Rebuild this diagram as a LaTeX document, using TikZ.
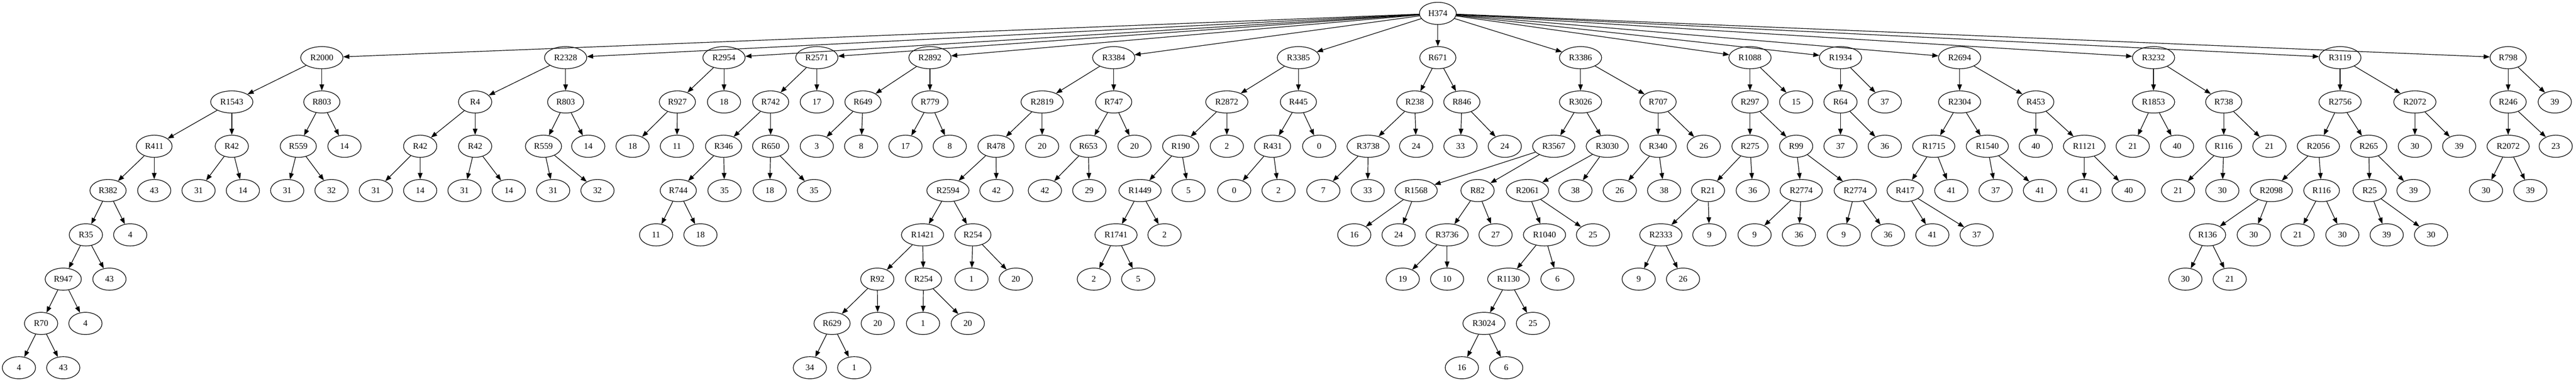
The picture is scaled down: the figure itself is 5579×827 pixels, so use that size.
\documentclass[tikz,border=0pt]{standalone}
\usepackage{fontspec}
\setmainfont{Liberation Serif}
\usetikzlibrary{shapes.geometric,arrows.meta}

\begin{document}
\begin{tikzpicture}[x=0.75pt, y=-0.75pt,
    vert/.style={ellipse, draw, line width=1pt, minimum width=54pt, minimum height=36pt,
        inner xsep=5.6pt, inner ysep=2pt, font=\fontsize{14}{16}\selectfont},
    arr/.style={line width=1pt, -{Triangle[length=10pt, width=7.5pt]}}]
        \useasboundingbox (0, 0) rectangle (5579, 827);

        % level 0 and 1
        \node[vert] (h374) at (3114, 29) {H374};
        \node[vert] (r2000) at (697, 125) {R2000};
        \node[vert] (r2328) at (1225, 125) {R2328};
        \node[vert] (r2954) at (1568, 125) {R2954};
        \node[vert] (r2571) at (1769, 125) {R2571};
        \node[vert] (r2892) at (2014, 125) {R2892};
        \node[vert] (r3384) at (2412, 125) {R3384};
        \node[vert] (r3385) at (2812, 125) {R3385};
        \node[vert] (r671) at (3114, 125) {R671};
        \node[vert] (r3386) at (3423, 125) {R3386};
        \node[vert] (r1088) at (3790, 125) {R1088};
        \node[vert] (r1934) at (3986, 125) {R1934};
        \node[vert] (r2694) at (4244, 125) {R2694};
        \node[vert] (r3232) at (4664, 125) {R3232};
        \node[vert] (r3119) at (5068, 125) {R3119};
        \node[vert] (r798) at (5432, 125) {R798};

        % level 2
        \node[vert] (r1543) at (502, 221) {R1543};
        \node[vert] (r803a) at (697, 221) {R803};
        \node[vert] (r4) at (1029, 221) {R4};
        \node[vert] (r803b) at (1225, 221) {R803};
        \node[vert] (r927) at (1467, 221) {R927};
        \node[vert] (r2954y) at (1568, 221) {18};
        \node[vert] (r742) at (1669, 221) {R742};
        \node[vert] (r2571y) at (1769, 221) {17};
        \node[vert] (r649) at (1869, 221) {R649};
        \node[vert] (r779) at (2014, 221) {R779};
        \node[vert] (r2819) at (2257, 221) {R2819};
        \node[vert] (r747) at (2412, 221) {R747};
        \node[vert] (r2872) at (2657, 221) {R2872};
        \node[vert] (r445) at (2812, 221) {R445};
        \node[vert] (r238) at (3064, 221) {R238};
        \node[vert] (r846) at (3166, 221) {R846};
        \node[vert] (r3026) at (3423, 221) {R3026};
        \node[vert] (r707) at (3591, 221) {R707};
        \node[vert] (r297) at (3790, 221) {R297};
        \node[vert] (r1088y) at (3890, 221) {15};
        \node[vert] (r64) at (3986, 221) {R64};
        \node[vert] (r1934y) at (4082, 221) {37};
        \node[vert] (r2304) at (4244, 221) {R2304};
        \node[vert] (r453) at (4409, 221) {R453};
        \node[vert] (r1853) at (4664, 221) {R1853};
        \node[vert] (r738) at (4816, 221) {R738};
        \node[vert] (r2756) at (5068, 221) {R2756};
        \node[vert] (r2072a) at (5230, 221) {R2072};
        \node[vert] (r246) at (5432, 221) {R246};
        \node[vert] (r798y) at (5533, 221) {39};

        % level 3
        \node[vert] (r411) at (334, 317) {R411};
        \node[vert] (r42a) at (502, 317) {R42};
        \node[vert] (r559a) at (646, 317) {R559};
        \node[vert] (r803ay) at (746, 317) {14};
        \node[vert] (r42b) at (910, 317) {R42};
        \node[vert] (r42c) at (1029, 317) {R42};
        \node[vert] (r559b) at (1177, 317) {R559};
        \node[vert] (r803by) at (1274, 317) {14};
        \node[vert] (r927x) at (1370, 317) {18};
        \node[vert] (r927y) at (1466, 317) {11};
        \node[vert] (r346) at (1567, 317) {R346};
        \node[vert] (r650) at (1669, 317) {R650};
        \node[vert] (r649x) at (1769, 317) {3};
        \node[vert] (r649y) at (1865, 317) {8};
        \node[vert] (r779x) at (1961, 317) {17};
        \node[vert] (r779y) at (2057, 317) {8};
        \node[vert] (r478) at (2157, 317) {R478};
        \node[vert] (r2819y) at (2257, 317) {20};
        \node[vert] (r653) at (2357, 317) {R653};
        \node[vert] (r747y) at (2457, 317) {20};
        \node[vert] (r190) at (2557, 317) {R190};
        \node[vert] (r2872y) at (2657, 317) {2};
        \node[vert] (r431) at (2756, 317) {R431};
        \node[vert] (r445y) at (2857, 317) {0};
        \node[vert] (r3738) at (2963, 317) {R3738};
        \node[vert] (r238y) at (3067, 317) {24};
        \node[vert] (r846x) at (3163, 317) {33};
        \node[vert] (r846y) at (3259, 317) {24};
        \node[vert] (r3567) at (3365, 317) {R3567};
        \node[vert] (r3030) at (3481, 317) {R3030};
        \node[vert] (r340) at (3591, 317) {R340};
        \node[vert] (r707y) at (3690, 317) {26};
        \node[vert] (r275) at (3790, 317) {R275};
        \node[vert] (r99) at (3890, 317) {R99};
        \node[vert] (r64x) at (3986, 317) {37};
        \node[vert] (r64y) at (4082, 317) {36};
        \node[vert] (r1715) at (4188, 317) {R1715};
        \node[vert] (r1540) at (4304, 317) {R1540};
        \node[vert] (r453x) at (4409, 317) {40};
        \node[vert] (r1121) at (4514, 317) {R1121};
        \node[vert] (r1853x) at (4619, 317) {21};
        \node[vert] (r1853y) at (4715, 317) {40};
        \node[vert] (r116a) at (4816, 317) {R116};
        \node[vert] (r738y) at (4915, 317) {21};
        \node[vert] (r2056) at (5021, 317) {R2056};
        \node[vert] (r265) at (5130, 317) {R265};
        \node[vert] (r2072ax) at (5230, 317) {30};
        \node[vert] (r2072ay) at (5326, 317) {39};
        \node[vert] (r2072b) at (5432, 317) {R2072};
        \node[vert] (r246y) at (5535, 317) {23};

        % level 4
        \node[vert] (r382) at (234, 413) {R382};
        \node[vert] (r411y) at (334, 413) {43};
        \node[vert] (r42ax) at (430, 413) {31};
        \node[vert] (r42ay) at (526, 413) {14};
        \node[vert] (r559ax) at (622, 413) {31};
        \node[vert] (r559ay) at (718, 413) {32};
        \node[vert] (r42bx) at (814, 413) {31};
        \node[vert] (r42by) at (910, 413) {14};
        \node[vert] (r42cx) at (1006, 413) {31};
        \node[vert] (r42cy) at (1102, 413) {14};
        \node[vert] (r559bx) at (1198, 413) {31};
        \node[vert] (r559by) at (1294, 413) {32};
        \node[vert] (r744) at (1469, 413) {R744};
        \node[vert] (r346y) at (1569, 413) {35};
        \node[vert] (r650x) at (1667, 413) {18};
        \node[vert] (r650y) at (1763, 413) {35};
        \node[vert] (r2594) at (2053, 413) {R2594};
        \node[vert] (r478y) at (2158, 413) {42};
        \node[vert] (r653x) at (2263, 413) {42};
        \node[vert] (r653y) at (2359, 413) {29};
        \node[vert] (r1449) at (2469, 413) {R1449};
        \node[vert] (r190y) at (2574, 413) {5};
        \node[vert] (r431x) at (2673, 413) {0};
        \node[vert] (r431y) at (2769, 413) {2};
        \node[vert] (r3738x) at (2866, 413) {7};
        \node[vert] (r3738y) at (2962, 413) {33};
        \node[vert] (r1568) at (3067, 413) {R1568};
        \node[vert] (r82) at (3200, 413) {R82};
        \node[vert] (r2061) at (3308, 413) {R2061};
        \node[vert] (r3030y) at (3412, 413) {38};
        \node[vert] (r340x) at (3508, 413) {26};
        \node[vert] (r340y) at (3604, 413) {38};
        \node[vert] (r21) at (3699, 413) {R21};
        \node[vert] (r275y) at (3796, 413) {36};
        \node[vert] (r2774a) at (3901, 413) {R2774};
        \node[vert] (r2774b) at (4018, 413) {R2774};
        \node[vert] (r417) at (4126, 413) {R417};
        \node[vert] (r1715y) at (4226, 413) {41};
        \node[vert] (r1540x) at (4322, 413) {37};
        \node[vert] (r1540y) at (4418, 413) {41};
        \node[vert] (r1121x) at (4514, 413) {41};
        \node[vert] (r1121y) at (4610, 413) {40};
        \node[vert] (r116ax) at (4717, 413) {21};
        \node[vert] (r116ay) at (4813, 413) {30};
        \node[vert] (r2098) at (4919, 413) {R2098};
        \node[vert] (r116b) at (5028, 413) {R116};
        \node[vert] (r25) at (5132, 413) {R25};
        \node[vert] (r265y) at (5227, 413) {39};
        \node[vert] (r2072bx) at (5384, 413) {30};
        \node[vert] (r2072by) at (5480, 413) {39};

        % level 5
        \node[vert] (r35) at (186, 509) {R35};
        \node[vert] (r382y) at (282, 509) {4};
        \node[vert] (r744x) at (1421, 509) {11};
        \node[vert] (r744y) at (1517, 509) {18};
        \node[vert] (r1421) at (1998, 509) {R1421};
        \node[vert] (r254a) at (2107, 509) {R254};
        \node[vert] (r1741) at (2417, 509) {R1741};
        \node[vert] (r1449y) at (2522, 509) {2};
        \node[vert] (r1568x) at (2933, 509) {16};
        \node[vert] (r1568y) at (3029, 509) {24};
        \node[vert] (r3736) at (3134, 509) {R3736};
        \node[vert] (r82y) at (3239, 509) {27};
        \node[vert] (r1040) at (3345, 509) {R1040};
        \node[vert] (r2061y) at (3450, 509) {25};
        \node[vert] (r2333) at (3597, 509) {R2333};
        \node[vert] (r21y) at (3702, 509) {9};
        \node[vert] (r2774ax) at (3800, 509) {9};
        \node[vert] (r2774ay) at (3896, 509) {36};
        \node[vert] (r2774bx) at (3993, 509) {9};
        \node[vert] (r2774by) at (4089, 509) {36};
        \node[vert] (r417x) at (4185, 509) {41};
        \node[vert] (r417y) at (4281, 509) {37};
        \node[vert] (r136) at (4781, 509) {R136};
        \node[vert] (r2098y) at (4881, 509) {30};
        \node[vert] (r116bx) at (4976, 509) {21};
        \node[vert] (r116by) at (5073, 509) {30};
        \node[vert] (r25x) at (5169, 509) {39};
        \node[vert] (r25y) at (5265, 509) {30};

        % level 6
        \node[vert] (r947) at (137, 605) {R947};
        \node[vert] (r35y) at (237, 605) {43};
        \node[vert] (r92) at (1900, 605) {R92};
        \node[vert] (r254b) at (2000, 605) {R254};
        \node[vert] (r254ax) at (2104, 605) {1};
        \node[vert] (r254ay) at (2200, 605) {20};
        \node[vert] (r1741x) at (2369, 605) {2};
        \node[vert] (r1741y) at (2465, 605) {5};
        \node[vert] (r3736x) at (3038, 605) {19};
        \node[vert] (r3736y) at (3134, 605) {10};
        \node[vert] (r1130) at (3267, 605) {R1130};
        \node[vert] (r1040y) at (3373, 605) {6};
        \node[vert] (r2333x) at (3549, 605) {9};
        \node[vert] (r2333y) at (3645, 605) {26};
        \node[vert] (r136x) at (4733, 605) {30};
        \node[vert] (r136y) at (4829, 605) {21};

        % level 7
        \node[vert] (r70) at (89, 701) {R70};
        \node[vert] (r947y) at (185, 701) {4};
        \node[vert] (r629) at (1802, 701) {R629};
        \node[vert] (r92y) at (1901, 701) {20};
        \node[vert] (r254bx) at (1999, 701) {1};
        \node[vert] (r254by) at (2096, 701) {20};
        \node[vert] (r3024) at (3214, 701) {R3024};
        \node[vert] (r1130y) at (3320, 701) {25};

        % level 8
        \node[vert] (r70x) at (41, 797) {4};
        \node[vert] (r70y) at (137, 797) {43};
        \node[vert] (r629x) at (1754, 797) {34};
        \node[vert] (r629y) at (1850, 797) {1};
        \node[vert] (r3024x) at (3166, 797) {16};
        \node[vert] (r3024y) at (3262, 797) {6};

        % edges from the root
        \draw[arr] (h374) -- (r2000);
        \draw[arr] (h374) -- (r2328);
        \draw[arr] (h374) -- (r2954);
        \draw[arr] (h374) -- (r2571);
        \draw[arr] (h374) -- (r2892);
        \draw[arr] (h374) -- (r3384);
        \draw[arr] (h374) -- (r3385);
        \draw[arr] (h374) -- (r671);
        \draw[arr] (h374) -- (r3386);
        \draw[arr] (h374) -- (r1088);
        \draw[arr] (h374) -- (r1934);
        \draw[arr] (h374) -- (r2694);
        \draw[arr] (h374) -- (r3232);
        \draw[arr] (h374) -- (r3119);
        \draw[arr] (h374) -- (r798);

        % R2000, R2328
        \draw[arr] (r2000) -- (r1543);
        \draw[arr] (r2000) -- (r803a);
        \draw[arr] (r1543) -- (r411);
        \draw[arr] (r1543) -- (r42a);
        \draw[arr] (r411) -- (r382);
        \draw[arr] (r411) -- (r411y);
        \draw[arr] (r382) -- (r35);
        \draw[arr] (r382) -- (r382y);
        \draw[arr] (r35) -- (r947);
        \draw[arr] (r35) -- (r35y);
        \draw[arr] (r947) -- (r70);
        \draw[arr] (r947) -- (r947y);
        \draw[arr] (r70) -- (r70x);
        \draw[arr] (r70) -- (r70y);
        \draw[arr] (r42a) -- (r42ax);
        \draw[arr] (r42a) -- (r42ay);
        \draw[arr] (r803a) -- (r559a);
        \draw[arr] (r803a) -- (r803ay);
        \draw[arr] (r559a) -- (r559ax);
        \draw[arr] (r559a) -- (r559ay);
        \draw[arr] (r2328) -- (r4);
        \draw[arr] (r2328) -- (r803b);
        \draw[arr] (r4) -- (r42b);
        \draw[arr] (r4) -- (r42c);
        \draw[arr] (r42b) -- (r42bx);
        \draw[arr] (r42b) -- (r42by);
        \draw[arr] (r42c) -- (r42cx);
        \draw[arr] (r42c) -- (r42cy);
        \draw[arr] (r803b) -- (r559b);
        \draw[arr] (r803b) -- (r803by);
        \draw[arr] (r559b) -- (r559bx);
        \draw[arr] (r559b) -- (r559by);

        % R2954, R2571, R2892
        \draw[arr] (r2954) -- (r927);
        \draw[arr] (r2954) -- (r2954y);
        \draw[arr] (r927) -- (r927x);
        \draw[arr] (r927) -- (r927y);
        \draw[arr] (r2571) -- (r742);
        \draw[arr] (r2571) -- (r2571y);
        \draw[arr] (r742) -- (r346);
        \draw[arr] (r742) -- (r650);
        \draw[arr] (r346) -- (r744);
        \draw[arr] (r346) -- (r346y);
        \draw[arr] (r744) -- (r744x);
        \draw[arr] (r744) -- (r744y);
        \draw[arr] (r650) -- (r650x);
        \draw[arr] (r650) -- (r650y);
        \draw[arr] (r2892) -- (r649);
        \draw[arr] (r2892) -- (r779);
        \draw[arr] (r649) -- (r649x);
        \draw[arr] (r649) -- (r649y);
        \draw[arr] (r779) -- (r779x);
        \draw[arr] (r779) -- (r779y);

        % R3384
        \draw[arr] (r3384) -- (r2819);
        \draw[arr] (r3384) -- (r747);
        \draw[arr] (r2819) -- (r478);
        \draw[arr] (r2819) -- (r2819y);
        \draw[arr] (r478) -- (r2594);
        \draw[arr] (r478) -- (r478y);
        \draw[arr] (r2594) -- (r1421);
        \draw[arr] (r2594) -- (r254a);
        \draw[arr] (r1421) -- (r92);
        \draw[arr] (r1421) -- (r254b);
        \draw[arr] (r92) -- (r629);
        \draw[arr] (r92) -- (r92y);
        \draw[arr] (r629) -- (r629x);
        \draw[arr] (r629) -- (r629y);
        \draw[arr] (r254b) -- (r254bx);
        \draw[arr] (r254b) -- (r254by);
        \draw[arr] (r254a) -- (r254ax);
        \draw[arr] (r254a) -- (r254ay);
        \draw[arr] (r747) -- (r653);
        \draw[arr] (r747) -- (r747y);
        \draw[arr] (r653) -- (r653x);
        \draw[arr] (r653) -- (r653y);

        % R3385, R671
        \draw[arr] (r3385) -- (r2872);
        \draw[arr] (r3385) -- (r445);
        \draw[arr] (r2872) -- (r190);
        \draw[arr] (r2872) -- (r2872y);
        \draw[arr] (r190) -- (r1449);
        \draw[arr] (r190) -- (r190y);
        \draw[arr] (r1449) -- (r1741);
        \draw[arr] (r1449) -- (r1449y);
        \draw[arr] (r1741) -- (r1741x);
        \draw[arr] (r1741) -- (r1741y);
        \draw[arr] (r445) -- (r431);
        \draw[arr] (r445) -- (r445y);
        \draw[arr] (r431) -- (r431x);
        \draw[arr] (r431) -- (r431y);
        \draw[arr] (r671) -- (r238);
        \draw[arr] (r671) -- (r846);
        \draw[arr] (r238) -- (r3738);
        \draw[arr] (r238) -- (r238y);
        \draw[arr] (r3738) -- (r3738x);
        \draw[arr] (r3738) -- (r3738y);
        \draw[arr] (r846) -- (r846x);
        \draw[arr] (r846) -- (r846y);

        % R3386
        \draw[arr] (r3386) -- (r3026);
        \draw[arr] (r3386) -- (r707);
        \draw[arr] (r3026) -- (r3567);
        \draw[arr] (r3026) -- (r3030);
        \draw[arr] (r3567) -- (r1568);
        \draw[arr] (r3567) -- (r82);
        \draw[arr] (r1568) -- (r1568x);
        \draw[arr] (r1568) -- (r1568y);
        \draw[arr] (r82) -- (r3736);
        \draw[arr] (r82) -- (r82y);
        \draw[arr] (r3736) -- (r3736x);
        \draw[arr] (r3736) -- (r3736y);
        \draw[arr] (r3030) -- (r2061);
        \draw[arr] (r3030) -- (r3030y);
        \draw[arr] (r2061) -- (r1040);
        \draw[arr] (r2061) -- (r2061y);
        \draw[arr] (r1040) -- (r1130);
        \draw[arr] (r1040) -- (r1040y);
        \draw[arr] (r1130) -- (r3024);
        \draw[arr] (r1130) -- (r1130y);
        \draw[arr] (r3024) -- (r3024x);
        \draw[arr] (r3024) -- (r3024y);
        \draw[arr] (r707) -- (r340);
        \draw[arr] (r707) -- (r707y);
        \draw[arr] (r340) -- (r340x);
        \draw[arr] (r340) -- (r340y);

        % R1088, R1934
        \draw[arr] (r1088) -- (r297);
        \draw[arr] (r1088) -- (r1088y);
        \draw[arr] (r297) -- (r275);
        \draw[arr] (r297) -- (r99);
        \draw[arr] (r275) -- (r21);
        \draw[arr] (r275) -- (r275y);
        \draw[arr] (r21) -- (r2333);
        \draw[arr] (r21) -- (r21y);
        \draw[arr] (r2333) -- (r2333x);
        \draw[arr] (r2333) -- (r2333y);
        \draw[arr] (r99) -- (r2774a);
        \draw[arr] (r99) -- (r2774b);
        \draw[arr] (r2774a) -- (r2774ax);
        \draw[arr] (r2774a) -- (r2774ay);
        \draw[arr] (r2774b) -- (r2774bx);
        \draw[arr] (r2774b) -- (r2774by);
        \draw[arr] (r1934) -- (r64);
        \draw[arr] (r1934) -- (r1934y);
        \draw[arr] (r64) -- (r64x);
        \draw[arr] (r64) -- (r64y);

        % R2694
        \draw[arr] (r2694) -- (r2304);
        \draw[arr] (r2694) -- (r453);
        \draw[arr] (r2304) -- (r1715);
        \draw[arr] (r2304) -- (r1540);
        \draw[arr] (r1715) -- (r417);
        \draw[arr] (r1715) -- (r1715y);
        \draw[arr] (r417) -- (r417x);
        \draw[arr] (r417) -- (r417y);
        \draw[arr] (r1540) -- (r1540x);
        \draw[arr] (r1540) -- (r1540y);
        \draw[arr] (r453) -- (r453x);
        \draw[arr] (r453) -- (r1121);
        \draw[arr] (r1121) -- (r1121x);
        \draw[arr] (r1121) -- (r1121y);

        % R3232, R3119, R798
        \draw[arr] (r3232) -- (r1853);
        \draw[arr] (r3232) -- (r738);
        \draw[arr] (r1853) -- (r1853x);
        \draw[arr] (r1853) -- (r1853y);
        \draw[arr] (r738) -- (r116a);
        \draw[arr] (r738) -- (r738y);
        \draw[arr] (r116a) -- (r116ax);
        \draw[arr] (r116a) -- (r116ay);
        \draw[arr] (r3119) -- (r2756);
        \draw[arr] (r3119) -- (r2072a);
        \draw[arr] (r2756) -- (r2056);
        \draw[arr] (r2756) -- (r265);
        \draw[arr] (r2056) -- (r2098);
        \draw[arr] (r2056) -- (r116b);
        \draw[arr] (r2098) -- (r136);
        \draw[arr] (r2098) -- (r2098y);
        \draw[arr] (r136) -- (r136x);
        \draw[arr] (r136) -- (r136y);
        \draw[arr] (r116b) -- (r116bx);
        \draw[arr] (r116b) -- (r116by);
        \draw[arr] (r265) -- (r25);
        \draw[arr] (r265) -- (r265y);
        \draw[arr] (r25) -- (r25x);
        \draw[arr] (r25) -- (r25y);
        \draw[arr] (r2072a) -- (r2072ax);
        \draw[arr] (r2072a) -- (r2072ay);
        \draw[arr] (r798) -- (r246);
        \draw[arr] (r798) -- (r798y);
        \draw[arr] (r246) -- (r2072b);
        \draw[arr] (r246) -- (r246y);
        \draw[arr] (r2072b) -- (r2072bx);
        \draw[arr] (r2072b) -- (r2072by);

    \end{tikzpicture}
\end{document}
